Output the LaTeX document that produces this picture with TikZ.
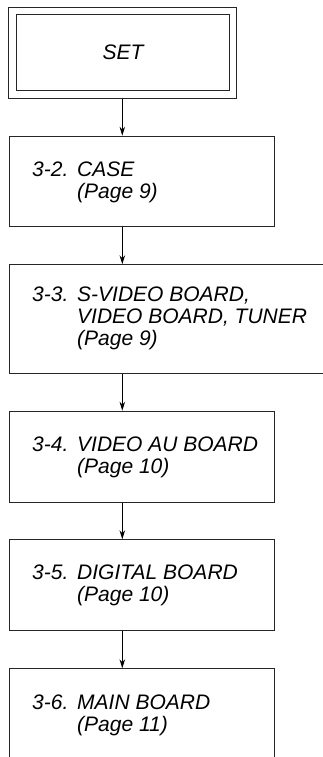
\documentclass[tikz,border=0pt]{standalone}
\usepackage{fontspec}
\setmainfont{Liberation Sans}
\usetikzlibrary{arrows.meta}
\begin{document}
\begin{tikzpicture}[x=1pt,y=-1pt,
  box/.style={draw=black!85, line width=1.1pt, rectangle, inner sep=0pt, anchor=north west},
  txt/.style={inner sep=0pt, anchor=base west, font=\fontsize{21}{22}\selectfont\itshape},
  flow/.style={draw=black, line width=0.9pt, -{Stealth[length=9pt,width=5.5pt]}}]
\useasboundingbox (0,0) rectangle (323,757);
\clip (0,0) rectangle (323,757);
\fill[white] (0,0) rectangle (323,757);
% SET
\node[box, minimum width=227.7, minimum height=91.6] (setout) at (8.3,6.7) {};
\node[box, minimum width=212.7, minimum height=76] (setin) at (16,14.3) {};
\node[inner sep=0pt, anchor=base, font=\fontsize{21}{22}\selectfont\itshape] (settxt) at (123,60) {SET};
% boxes
\node[box, minimum width=265, minimum height=90.3] (b2) at (9.3,135.7) {};
\node[box, minimum width=400, minimum height=109] (b3) at (9.3,264.3) {};
\node[box, minimum width=264.4, minimum height=91] (b4) at (9.3,410.7) {};
\node[box, minimum width=265, minimum height=91] (b5) at (9.3,539.3) {};
\node[box, minimum width=265, minimum height=150] (b6) at (9.3,668.3) {};
% texts
\node[txt] (t2a) at (32,176) {3-2.};
\node[txt] (t2b) at (77,176) {CASE};
\node[txt] (t2c) at (77,198) {(Page 9)};
\node[txt] (t3a) at (32,301.7) {3-3.};
\node[txt] (t3b) at (77,301.7) {S-VIDEO BOARD,};
\node[txt] (t3c) at (77,323.5) {VIDEO BOARD, TUNER};
\node[txt] (t3d) at (77,345.3) {(Page 9)};
\node[txt] (t4a) at (32,451.5) {3-4.};
\node[txt] (t4b) at (77,451.5) {VIDEO AU BOARD};
\node[txt] (t4c) at (77,473.3) {(Page 10)};
\node[txt] (t5a) at (32,579.5) {3-5.};
\node[txt] (t5b) at (77,579.5) {DIGITAL BOARD};
\node[txt] (t5c) at (77,601.3) {(Page 10)};
\node[txt] (t6a) at (32,709.3) {3-6.};
\node[txt] (t6b) at (77,709.3) {MAIN BOARD};
\node[txt] (t6c) at (77,731.1) {(Page 11)};
% connectors
\draw[flow] (setout.south west -| 122.3,0) -- (b2.north west -| 122.3,0);
\draw[flow] (b2.south west -| 122.3,0) -- (b3.north west -| 122.3,0);
\draw[flow] (b3.south west -| 122.3,0) -- (b4.north west -| 122.3,0);
\draw[flow] (b4.south west -| 122.3,0) -- (b5.north west -| 122.3,0);
\draw[flow] (b5.south west -| 122.3,0) -- (b6.north west -| 122.3,0);
\end{tikzpicture}
\end{document}
